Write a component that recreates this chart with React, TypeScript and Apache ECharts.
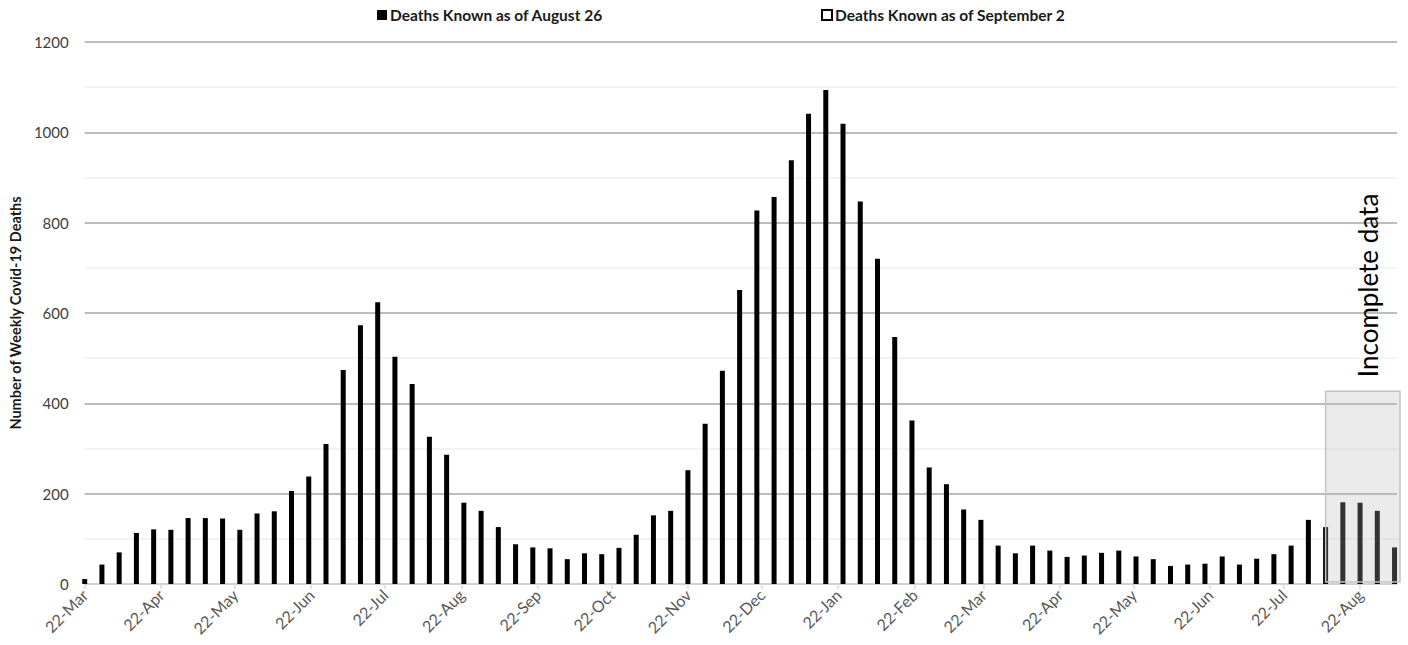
import { useEffect, useRef } from "react";
import * as echarts from "echarts";

// ---- data ----
const firstWeek = "2020-03-22";
const weeklyDeaths = [
  11, 43, 70, 113, 121, 120, 146, 146, 145, 120, 156, 161, 206, 238, 310, 474,
  573, 624, 503, 443, 326, 286, 180, 162, 126, 88, 81, 79, 55, 68, 66, 80, 109,
  152, 162, 252, 355, 472, 651, 827, 857, 938, 1041, 1094, 1019, 847, 720, 547,
  362, 258, 221, 165, 142, 85, 68, 85, 74, 60, 63, 69, 74, 61, 55, 40, 43, 45,
  61, 43, 56, 66, 85, 142, 126, 181, 180, 162, 81,
];
const tickDates = [
  "2020-03-22", "2020-04-22", "2020-05-22", "2020-06-22", "2020-07-22", "2020-08-22",
  "2020-09-22", "2020-10-22", "2020-11-22", "2020-12-22", "2021-01-22", "2021-02-22",
  "2021-03-22", "2021-04-22", "2021-05-22", "2021-06-22", "2021-07-22", "2021-08-22",
];
const tickLabels = [
  "22-Mar", "22-Apr", "22-May", "22-Jun", "22-Jul", "22-Aug", "22-Sep", "22-Oct",
  "22-Nov", "22-Dec", "22-Jan", "22-Feb", "22-Mar", "22-Apr", "22-May", "22-Jun",
  "22-Jul", "22-Aug",
];
const seriesNames = ["Deaths Known as of August 26", "Deaths Known as of September 2"];
const yAxisTitle = "Number of Weekly Covid-19 Deaths";
const annotationText = "Incomplete data";
const incompleteFromWeekIndex = 72;
const incompleteBoxTop = 427;

const DAY = 86400000;
const dayOf = (d: string) =>
  (Date.parse(d + "T00:00:00Z") - Date.parse(firstWeek + "T00:00:00Z")) / DAY;
const weekDays = weeklyDeaths.map((_, i) => i * 7);
const tickDays = tickDates.map(dayOf);

const FONT = "Lato, 'Noto Sans', sans-serif";

export default function App() {
  const ref = useRef<HTMLDivElement>(null);
  useEffect(() => {
    document.body.style.margin = "0";
    const chart = echarts.init(ref.current!, null, { renderer: "svg" });
    const legendText = {
      fontFamily: FONT,
      fontSize: 15.5,
      fontWeight: "bold",
      color: "#1a1a1a",
      padding: [0, 0, 0, -2],
    };
    const option: any = {
      animation: false,
      backgroundColor: "#ffffff",
      textStyle: { fontFamily: FONT },
      legend: [
        {
          data: [seriesNames[0]],
          left: 372,
          top: 2,
          icon: "rect",
          itemWidth: 10,
          itemHeight: 10,
          textStyle: legendText,
        },
        {
          data: [seriesNames[1]],
          left: 816,
          top: 2,
          icon: "rect",
          itemWidth: 10,
          itemHeight: 10,
          textStyle: legendText,
        },
      ],
      grid: { left: 83, right: 11, top: 42, bottom: 61, containLabel: false },
      xAxis: {
        type: "value",
        min: 0,
        max: 533,
        axisLine: { show: true, lineStyle: { color: "#d9d9d9", width: 1.5 } },
        axisTick: {
          show: true,
          customValues: tickDays,
          length: 5,
          lineStyle: { color: "#d9d9d9", width: 1.5 },
        },
        axisLabel: {
          customValues: tickDays,
          rotate: 45,
          margin: 8,
          color: "#595959",
          fontSize: 16,
          fontFamily: FONT,
          formatter: (v: number) => {
            const i = tickDays.indexOf(v);
            return i >= 0 ? tickLabels[i] : "";
          },
        },
        splitLine: { show: false },
      },
      yAxis: {
        type: "value",
        min: 0,
        max: 1200,
        interval: 100,
        name: yAxisTitle,
        nameLocation: "middle",
        nameGap: 60,
        nameTextStyle: { fontFamily: FONT, fontSize: 14.5, fontWeight: "bold", color: "#1a1a1a" },
        axisLine: { show: false },
        axisTick: { show: false },
        axisLabel: {
          margin: 16,
          color: "#404040",
          fontSize: 15,
          fontFamily: FONT,
          formatter: (v: number) => (v % 200 === 0 ? String(v) : ""),
        },
        splitLine: {
          show: true,
          lineStyle: { color: ["#a6a6a6", "#efefef"], width: 1.5 },
        },
      },
      series: [
        {
          name: seriesNames[0],
          type: "bar",
          barWidth: 5,
          barGap: "-100%",
          clip: false,
          itemStyle: { color: "#000000" },
          data: weekDays.map((d, i) => [d, weeklyDeaths[i]]),
        },
        {
          name: seriesNames[1],
          type: "bar",
          barWidth: 5,
          barGap: "-100%",
          itemStyle: { color: "#ffffff", borderColor: "#000000", borderWidth: 1.5 },
          data: [],
        },
      ],
    };
    chart.setOption(option);

    const pLeft = chart.convertToPixel({ gridIndex: 0 }, [weekDays[incompleteFromWeekIndex], incompleteBoxTop]) as number[];
    const pRight = chart.convertToPixel({ gridIndex: 0 }, [533, 0]) as number[];
    const bx = pLeft[0];
    const by = pLeft[1];
    const bw = pRight[0] + 3 - bx;
    const bh = pRight[1] - 2 - by;
    chart.setOption({
      graphic: [
        {
          type: "rect",
          z: 100,
          shape: { x: bx, y: by, width: bw, height: bh },
          style: { fill: "rgba(182,182,182,0.28)", stroke: "#c4c4c4", lineWidth: 1.5 },
        },
        {
          type: "text",
          z: 100,
          x: bx + bw / 2 + 5,
          y: by - 14,
          rotation: Math.PI / 2,
          style: {
            text: annotationText,
            fontFamily: FONT,
            fontSize: 26,
            fill: "#000000",
            align: "left",
            verticalAlign: "middle",
          },
        },
      ],
    });
    return () => chart.dispose();
  }, []);
  return <div ref={ref} style={{ width: 1408, height: 645 }} />;
}
